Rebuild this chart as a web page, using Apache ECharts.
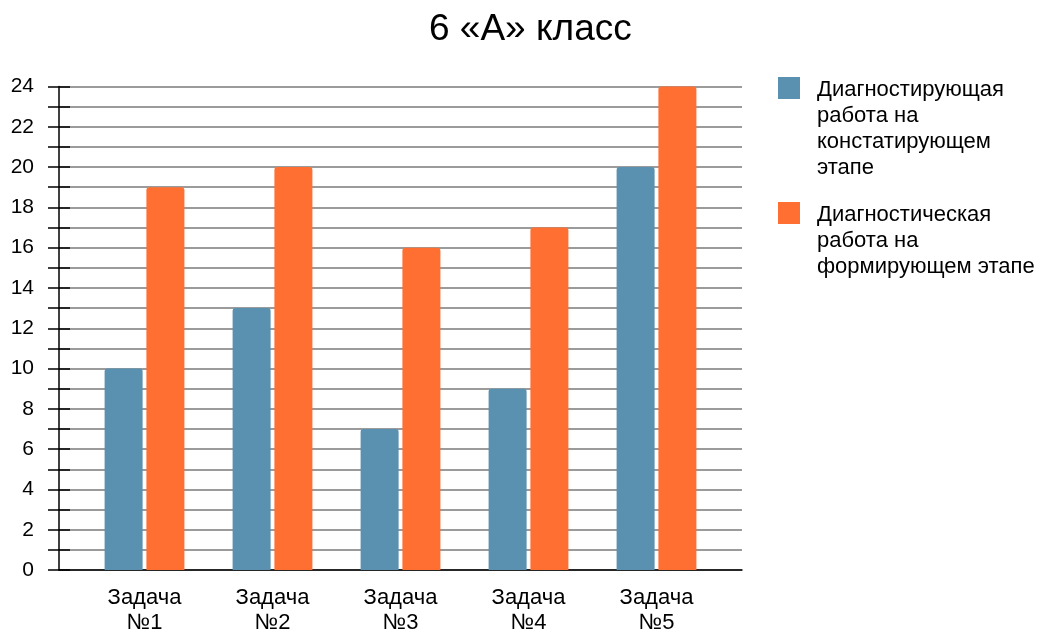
<!DOCTYPE html>
<html>
<head>
<meta charset="utf-8">
<script src="https://cdn.jsdelivr.net/npm/echarts@6/dist/echarts.min.js"></script>
<style>
  html, body { margin: 0; padding: 0; background: #fff; }
  #main { width: 1045px; height: 630px; }
</style>
</head>
<body>
<div id="main"></div>
<script>
// данные диаграммы
var categories = ["Задача\n№1", "Задача\n№2", "Задача\n№3", "Задача\n№4", "Задача\n№5"];
var seriesNames = [
  "Диагностирующая\nработа на\nконстатирующем\nэтапе",
  "Диагностическая\nработа на\nформирующем этапе"
];
var stageOne = [10, 13, 7, 9, 20];
var stageTwo = [19, 20, 16, 17, 24];
var yMin = 0, yMax = 24, yStep = 1;

var FONT = "Liberation Sans, Arial, sans-serif";
var BLUE = "#5a90b0";
var ORANGE = "#ff6f31";
var LINE_H = 26;

// квадрат легенды прижат к первой строке подписи
function legendIcon(h) {
  return "path://M0,0H22V22H0Z M0," + h + "H0.01";
}

var myChart = echarts.init(document.getElementById("main"));

var legendText = { fontFamily: FONT, fontSize: 22, color: "#000", lineHeight: LINE_H, padding: [0, 0, 0, 12] };

var option = {
  animation: false,
  title: {
    text: "6 «А» класс",
    left: 424,
    top: 6,
    textStyle: { fontFamily: FONT, fontSize: 37, fontWeight: "normal", color: "#000" }
  },
  legend: [
    {
      orient: "vertical",
      left: 773,
      top: 72,
      itemWidth: 22,
      itemHeight: LINE_H * 4,
      textStyle: legendText,
      data: [{ name: seriesNames[0], icon: legendIcon(LINE_H * 4) }]
    },
    {
      orient: "vertical",
      left: 773,
      top: 197,
      itemWidth: 22,
      itemHeight: LINE_H * 3,
      textStyle: legendText,
      data: [{ name: seriesNames[1], icon: legendIcon(LINE_H * 3) }]
    }
  ],
  grid: [
    { left: 59, right: 303, top: 86.5, bottom: 60, outerBoundsMode: "none", containLabel: false },
    { left: 80.5, right: 324.5, top: 86.5, bottom: 60, outerBoundsMode: "none", containLabel: false }
  ],
  xAxis: [
    {
      gridIndex: 0,
      type: "value",
      min: 0,
      max: 1,
      axisLine: { lineStyle: { color: "#000", width: 1.5 } },
      axisTick: { show: false },
      axisLabel: { show: false },
      splitLine: { show: false }
    },
    {
      gridIndex: 1,
      type: "category",
      data: categories,
      axisLine: { show: false },
      axisTick: { show: false },
      axisLabel: {
        margin: 15,
        fontFamily: FONT,
        fontSize: 22,
        lineHeight: 25,
        color: "#000"
      }
    }
  ],
  yAxis: [
    {
      gridIndex: 0,
      type: "value",
      position: "left",
      min: yMin,
      max: yMax,
      interval: yStep,
      axisLine: { show: true, lineStyle: { color: "#000", width: 1.5 } },
      axisTick: { show: true, inside: false, length: 11, lineStyle: { color: "#000", width: 1.5 } },
      axisLabel: {
        margin: 25,
        fontFamily: FONT,
        fontSize: 21,
        color: "#000",
        formatter: function (v) { return v % 2 === 0 ? String(v) : ""; }
      },
      splitLine: { show: true, lineStyle: { color: "#7a7a7a", width: 1.5 } }
    },
    {
      gridIndex: 0,
      type: "value",
      position: "left",
      min: yMin,
      max: yMax,
      interval: yStep,
      axisLine: { show: false },
      axisTick: { show: true, inside: true, length: 11, lineStyle: { color: "#000", width: 1.5 } },
      axisLabel: { show: false },
      splitLine: { show: false }
    },
    {
      gridIndex: 1,
      type: "value",
      min: yMin,
      max: yMax,
      show: false
    }
  ],
  series: [
    {
      name: seriesNames[0],
      type: "bar",
      xAxisIndex: 1,
      yAxisIndex: 2,
      barWidth: 38,
      barGap: "10%",
      itemStyle: { color: BLUE, borderRadius: [3, 3, 0, 0] },
      data: stageOne
    },
    {
      name: seriesNames[1],
      type: "bar",
      xAxisIndex: 1,
      yAxisIndex: 2,
      barWidth: 38,
      barGap: "10%",
      itemStyle: { color: ORANGE, borderRadius: [3, 3, 0, 0] },
      data: stageTwo
    }
  ]
};

myChart.setOption(option);
</script>
</body>
</html>
